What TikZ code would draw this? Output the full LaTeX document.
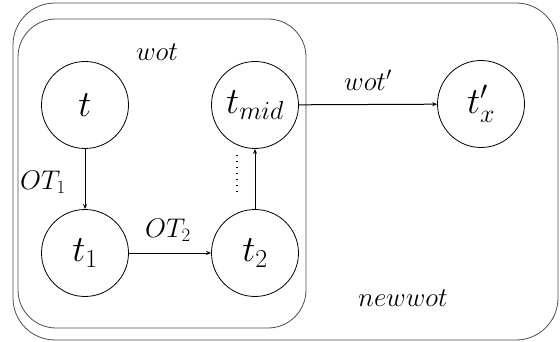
\RequirePackage{fix-cm}
\documentclass[tikz,border=0pt]{standalone}
\usetikzlibrary{arrows.meta}
\begin{document}
\begin{tikzpicture}[x=1pt,y=-1pt,
  st/.style={draw,circle,minimum size=87pt,inner sep=0pt,line width=0.8pt,font=\fontsize{37}{40}\selectfont},
  lbl/.style={font=\fontsize{27}{30}\selectfont},
  box/.style={draw,line width=0.8pt,rounded corners=42pt},
  arr/.style={-{Stealth[length=5pt,width=4pt]},line width=1pt}]
\useasboundingbox (0,0) rectangle (560,342);
\draw[box,draw=black!70] (13,3) rectangle (558,340);
\draw[box,draw=black!70,rounded corners=38pt] (18,19) rectangle (306,328);
\node[st] (t) at (85,105) {$t$};
\node[st] (tmid) at (255,105) {$t_{mid}$};
\node[st] (t1) at (85,253) {$t_1$};
\node[st] (t2) at (255,253) {$t_2$};
\node[st] (tx) at (481,104) {$t'_x$};
\draw[arr] (t) -- (t1);
\draw[arr] (t1) -- (t2);
\draw[arr] (t2) -- (tmid);
\draw[arr] (tmid) -- (tx);
\coordinate (d1) at (237,155);
\coordinate (d2) at (237,196);
\draw[line width=1.5pt,dash pattern=on 1.5pt off 4.5pt] (d1) -- (d2);
\node[lbl] (wot) at (157,52) {$wot$};
\node[lbl] (ot1) at (43,182) {$OT_1$};
\node[lbl] (ot2) at (168,230) {$OT_2$};
\node[lbl] (wotp) at (368,80) {$wot'$};
\node[lbl] (newwot) at (403,298) {$newwot$};
\end{tikzpicture}
\end{document}
